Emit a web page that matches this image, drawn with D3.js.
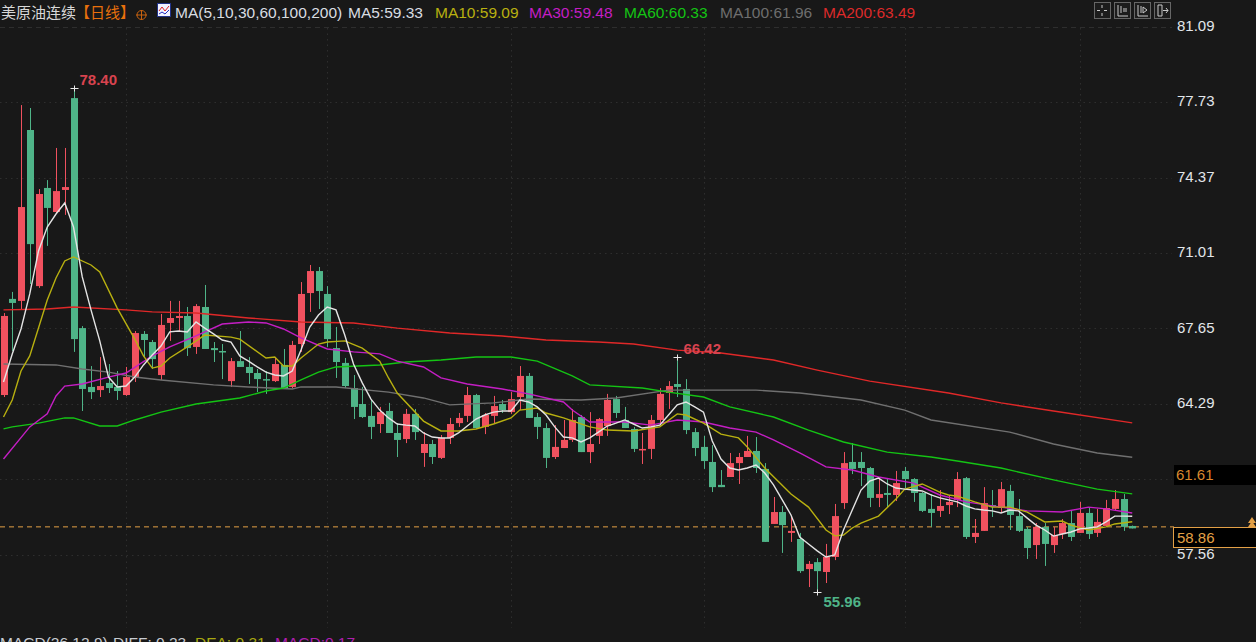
<!DOCTYPE html>
<html>
<head>
<meta charset="utf-8">
<script src="https://cdn.jsdelivr.net/npm/d3@7"></script>
<style>
html, body { margin: 0; padding: 0; background: #181818; overflow: hidden; }
svg { display: block; font-family: "Liberation Sans", "Noto Sans CJK SC", sans-serif; }
</style>
</head>
<body>
<svg id="chart" width="1256" height="642"></svg>
<script>
// daily candles
const open = [64.73,69.01,68.92,76.53,69.58,73.95,72.88,73.86,77.95,67.71,65.09,64.95,65.27,65.09,64.73,65.49,67.45,67.09,65.62,67.94,
  68.16,68.25,66.87,68.65,66.82,66.69,65.35,66.24,65.98,65.71,65.44,65.35,66.07,65.09,67.00,69.27,70.25,69.23,66.82,66.16,
  65.04,64.33,63.80,63.44,64.02,63.04,62.77,63.89,62.15,62.55,61.93,62.82,63.48,63.80,64.73,63.31,63.80,64.33,63.97,64.64,
  65.58,63.75,63.26,61.97,62.37,62.73,63.75,62.19,62.91,63.35,64.55,63.62,63.22,62.28,62.33,63.62,64.82,65.22,65.00,63.08,
  62.42,61.75,60.73,61.08,61.70,61.97,62.24,61.44,58.99,59.52,58.59,58.32,56.98,57.29,56.85,57.52,59.92,61.75,61.75,61.48,
  60.15,60.37,60.28,61.35,60.99,60.37,59.66,59.57,59.83,60.06,61.03,58.41,58.68,59.83,59.70,60.46,59.34,58.77,58.05,58.86,
  58.05,58.54,59.03,58.59,59.48,58.59,58.90,59.66,60.10,58.90];
const close = [68.25,68.83,73.10,71.45,73.68,73.06,73.81,73.99,67.22,65.00,64.86,65.13,65.04,64.91,65.53,67.49,67.18,66.33,67.85,68.16,
  68.25,66.82,68.69,66.78,66.73,66.65,66.24,65.98,65.71,65.44,65.40,66.11,65.04,66.96,69.23,70.25,69.36,67.22,66.20,65.13,
  64.20,63.75,63.31,63.97,63.04,62.73,63.89,63.08,62.55,61.97,62.82,63.44,63.71,64.73,63.26,63.84,64.24,64.06,64.55,65.58,
  63.71,63.31,61.93,62.42,62.73,63.62,62.19,62.55,63.66,64.51,63.93,63.26,62.33,62.33,63.62,64.78,65.13,65.09,63.17,62.37,
  61.79,60.63,60.63,61.70,61.97,62.24,61.48,58.19,59.52,58.94,58.68,56.89,57.21,56.89,57.52,59.34,61.70,61.44,61.48,60.15,
  60.32,60.28,60.81,60.99,60.37,59.57,59.48,59.79,59.97,60.99,58.41,58.59,59.92,59.74,60.54,59.39,58.68,57.92,58.86,58.10,
  58.50,59.03,58.41,59.48,58.54,59.08,59.70,60.10,58.86,58.79];
const high = [68.38,69.32,77.64,77.51,73.90,74.30,75.73,75.73,78.40,67.80,66.02,66.42,66.11,65.80,65.98,67.58,67.58,67.18,68.34,68.92,
  68.92,68.65,68.78,69.63,67.09,67.00,66.38,67.58,66.42,65.89,65.80,66.42,66.78,67.14,69.76,70.52,70.43,69.58,67.76,66.38,
  65.62,65.09,64.51,64.20,64.38,63.48,64.11,64.11,63.08,62.73,62.95,63.71,63.93,65.09,64.78,63.93,64.69,64.51,64.86,66.02,
  65.71,63.93,63.48,63.39,63.62,64.11,63.84,63.97,63.71,64.78,64.69,64.20,63.31,63.04,63.84,65.04,65.35,66.42,65.44,63.26,
  62.91,62.50,61.39,62.15,62.15,62.91,62.86,61.70,60.19,59.79,59.30,58.59,57.34,57.47,58.10,59.88,62.19,62.59,62.19,61.53,
  61.08,61.03,61.35,61.53,61.03,60.41,60.32,60.50,60.28,61.30,61.08,59.21,60.63,60.50,60.86,60.73,60.10,58.86,59.03,59.03,
  58.86,59.21,59.57,59.97,59.70,59.66,60.06,60.50,60.32,58.92];
const low = [64.64,66.69,68.56,69.67,69.50,71.37,72.79,72.75,66.65,64.02,64.55,64.64,64.82,64.51,64.69,65.31,66.42,65.89,65.40,67.14,
  67.58,66.47,66.56,66.78,66.20,65.44,65.09,65.98,65.22,64.86,64.78,65.31,65.00,65.04,66.65,68.43,68.56,66.87,65.49,65.04,
  63.66,63.71,62.77,63.04,63.04,61.97,62.59,62.73,61.53,61.66,61.88,62.55,63.31,63.53,63.26,62.99,63.44,63.93,63.89,64.06,
  63.71,62.77,61.48,61.88,62.37,62.64,62.19,61.70,62.55,62.91,63.71,63.26,62.19,61.66,61.88,63.48,64.11,64.64,62.99,62.01,
  61.44,60.41,60.63,61.08,60.77,61.97,61.26,58.19,58.99,57.70,58.19,56.81,56.18,55.96,56.36,57.38,59.66,61.21,60.68,59.74,
  59.74,59.70,60.01,60.59,59.97,59.52,58.86,59.30,59.43,59.74,58.32,58.14,58.68,59.30,59.48,58.72,58.63,57.43,57.43,57.12,
  57.70,58.32,58.23,58.59,58.32,58.41,58.86,59.57,58.68,58.79];

// moving averages. ma5 has one value per candle, the others are [candle, value]
const ma5 = [65.31,66.56,67.67,69.23,71.14,72.21,72.79,73.28,72.21,69.99,68.52,67.14,65.53,65.09,65.13,65.53,66.07,66.51,66.91,67.54,
  67.58,67.54,67.98,67.71,67.45,67.18,67.09,66.47,66.24,65.98,65.75,65.62,65.58,65.80,66.73,67.76,68.29,68.65,68.52,67.40,
  66.11,65.27,64.55,64.06,63.71,63.44,63.39,63.35,63.04,62.86,62.82,62.82,63.04,63.35,63.66,63.84,63.97,64.02,64.02,64.51,
  64.42,64.20,63.84,63.31,62.86,62.82,62.64,62.82,63.08,63.35,63.48,63.62,63.44,63.26,63.31,63.39,63.84,64.29,64.42,64.20,
  63.97,62.68,61.88,61.48,61.39,61.48,61.61,61.26,60.73,60.06,59.39,58.41,58.10,57.79,57.52,57.61,58.72,59.61,60.50,60.90,
  61.03,60.77,60.59,60.54,60.50,60.46,60.28,60.15,60.06,59.97,59.79,59.66,59.61,59.57,59.48,59.61,59.57,59.25,58.94,58.72,
  58.45,58.54,58.63,58.77,58.81,58.86,59.08,59.34,59.34,59.33];
const ma10 = [[0,63.75],[1,64.51],[2,65.80],[3,66.47],[5,68.96],[6,69.94],[7,70.70],[8,70.88],[10,70.52],[11,70.21],[13,68.60],[15,67.22],
  [16,66.47],[17,65.93],[18,66.02],[19,66.38],[21,66.87],[23,67.40],[26,67.31],[27,67.22],[30,66.38],[31,66.42],[32,66.02],[33,66.02],
  [34,66.38],[36,67.00],[37,67.09],[39,67.14],[41,66.82],[43,66.24],[44,65.49],[45,64.82],[48,63.57],[50,63.13],[52,63.13],[54,63.22],
  [56,63.44],[58,63.71],[59,64.06],[61,64.15],[62,63.93],[64,63.71],[67,63.31],[69,63.17],[72,63.13],[75,63.31],[77,63.89],[78,63.84],
  [80,63.48],[82,62.99],[84,62.82],[85,62.42],[87,61.48],[90,60.32],[92,59.74],[94,58.72],[95,58.46],[96,58.50],[97,58.81],[98,59.03],
  [100,59.34],[102,60.10],[103,60.54],[105,60.77],[107,60.41],[108,60.28],[109,60.23],[111,59.97],[113,59.74],[115,59.74],[117,59.52],
  [119,59.08],[121,59.12],[122,58.94],[124,58.72],[126,58.86],[127,58.99],[129,59.09]];
const ma30 = [[0,61.88],[3,63.31],[5,63.89],[6,64.69],[7,65.13],[9,65.22],[12,65.53],[14,65.71],[17,66.47],[19,66.87],[22,67.36],[25,67.89],
  [28,67.98],[30,67.94],[32,67.67],[34,67.27],[37,66.78],[40,66.65],[43,66.56],[45,66.24],[48,65.98],[50,65.49],[53,65.22],[57,65.00],
  [60,64.78],[64,64.42],[65,64.06],[67,63.53],[71,63.53],[74,63.39],[77,63.62],[80,63.53],[83,63.26],[86,63.08],[88,62.73],[91,62.15],
  [94,61.53],[97,61.39],[100,61.08],[104,60.81],[107,60.28],[110,59.97],[114,59.74],[117,59.57],[121,59.52],[124,59.74],[126,59.66],[129,59.48]];
const ma60 = [[0,63.22],[1,63.31],[4,63.48],[7,63.71],[8,63.71],[11,63.35],[13,63.35],[15,63.62],[18,63.97],[22,64.33],[27,64.60],[30,64.91],
  [32,65.04],[34,65.40],[36,65.75],[38,65.98],[43,66.07],[46,66.20],[50,66.29],[54,66.42],[58,66.42],[61,66.24],[65,65.58],[67,65.18],
  [73,65.04],[76,64.86],[80,64.64],[83,64.20],[88,63.75],[92,63.17],[96,62.64],[97,62.55],[101,62.19],[106,61.97],[109,61.79],[114,61.48],
  [120,60.95],[125,60.54],[129,60.33]];
const ma100 = [[0,66.11],[6,66.07],[9,65.89],[12,65.75],[15,65.53],[18,65.40],[24,65.18],[28,65.09],[33,65.00],[34,65.09],[38,65.09],[44,64.86],
  [48,64.60],[51,64.29],[56,64.38],[60,64.55],[66,64.51],[70,64.60],[76,64.95],[86,64.95],[91,64.82],[98,64.51],[103,64.06],[106,63.62],
  [115,63.08],[120,62.55],[125,62.15],[129,61.96]];
const ma200 = [[0,68.52],[5,68.56],[8,68.65],[14,68.52],[17,68.43],[22,68.38],[28,68.16],[34,67.98],[40,67.94],[45,67.71],[51,67.49],[57,67.36],
  [62,67.18],[68,67.09],[72,67.00],[77,66.73],[82,66.60],[88,66.29],[93,65.84],[99,65.35],[108,64.82],[114,64.38],[120,64.02],[129,63.49]];

const tickLabels = [81.09, 77.73, 74.37, 71.01, 67.65, 64.29, 57.56];
const gridValues = [81.09, 77.73, 74.37, 71.01, 67.65, 64.29, 60.93, 57.56];
const gridCandles = [14, 37, 58, 80, 103, 123];
const lastPrice = 58.86;
const boxPrice = 61.61;

const RED = "#f0515f", GREEN = "#4fb488";

const svg = d3.select("#chart");
const x = d3.scaleLinear().domain([0, open.length - 1]).range([3.5, 1132.25]);
const y = d3.scaleLinear().domain([78.40, 55.96]).range([88, 592]);

// grid
svg.append("g").selectAll("line").data(gridValues).enter().append("line")
    .attr("x1", 0).attr("x2", 1172)
    .attr("y1", d => Math.round(y(d)) - 0.5).attr("y2", d => Math.round(y(d)) - 0.5)
    .attr("stroke", "#2e2e2e")
    .attr("stroke-dasharray", (d, i) => i == 0 ? "5,4" : "1.5,4");
svg.append("g").selectAll("line").data(gridCandles).enter().append("line")
    .attr("x1", d => Math.round(x(d)) + 0.5).attr("x2", d => Math.round(x(d)) + 0.5)
    .attr("y1", 28).attr("y2", 628)
    .attr("stroke", "#2e2e2e").attr("stroke-dasharray", "1.5,4");

// last price line sits under the candles
svg.append("line")
    .attr("x1", 0).attr("x2", 1174)
    .attr("y1", y(lastPrice)).attr("y2", y(lastPrice))
    .attr("stroke", "#e3a046").attr("stroke-dasharray", "5,4");

// candles
const idx = d3.range(open.length);
const color = i => close[i] >= open[i] ? RED : GREEN;
const candles = svg.append("g");
candles.selectAll("line").data(idx).enter().append("line")
    .attr("x1", i => Math.round(x(i)) + 0.5).attr("x2", i => Math.round(x(i)) + 0.5)
    .attr("y1", i => y(high[i])).attr("y2", i => y(low[i]))
    .attr("stroke", color);
candles.selectAll("rect").data(idx).enter().append("rect")
    .attr("x", i => Math.round(x(i)) - 3)
    .attr("width", 7)
    .attr("y", i => y(Math.max(open[i], close[i])))
    .attr("height", i => Math.max(1.5, Math.abs(y(open[i]) - y(close[i]))))
    .attr("fill", color);

// moving averages
const line = d3.line().x(d => x(d[0])).y(d => y(d[1]));
const maSeries = [
    { data: ma200, color: "#e02828" },
    { data: ma100, color: "#707070" },
    { data: ma60, color: "#14c414" },
    { data: ma30, color: "#c41ec4" },
    { data: ma10, color: "#b8b010" },
    { data: ma5.map((v, i) => [i, v]), color: "#e4e4e4" }
];
svg.append("g").selectAll("path").data(maSeries).enter().append("path")
    .attr("d", d => line(d.data))
    .attr("fill", "none")
    .attr("stroke", d => d.color)
    .attr("stroke-width", 1.4);

// high and low markers
const marks = [
    { i: 8, v: 78.40, dx: 5, dy: -9, color: "#d8434f" },
    { i: 77, v: 66.42, dx: 6, dy: -9, color: "#d8434f" },
    { i: 93, v: 55.96, dx: 6, dy: 9, color: "#4fb488" }
];
const mark = svg.append("g").selectAll("g").data(marks).enter().append("g")
    .attr("transform", d => `translate(${Math.round(x(d.i)) + 0.5},${Math.round(y(d.v)) + 0.5})`);
mark.append("path").attr("d", "M-4,0H4M0,-3V3").attr("stroke", "#e8e8e8");
mark.append("text")
    .attr("x", d => d.dx).attr("y", d => d.dy).attr("dy", "0.35em")
    .attr("fill", d => d.color)
    .attr("font-size", 15).attr("font-weight", "bold")
    .text(d => d.v.toFixed(2));

// right axis
const axis = svg.append("g")
    .attr("transform", "translate(1177,-2)")
    .call(d3.axisRight(y).tickValues(tickLabels).tickSize(0).tickPadding(0).tickFormat(d3.format(".2f")));
axis.select(".domain").remove();
axis.selectAll("text").attr("fill", "#e2e6ea").attr("font-size", 15)
    .attr("font-family", "\"Liberation Sans\", sans-serif");

// price boxes on the axis
svg.append("rect").attr("x", 1174).attr("y", 465).attr("width", 82).attr("height", 20).attr("fill", "#000");
svg.append("text").attr("x", 1176).attr("y", 475).attr("dy", "0.35em")
    .attr("fill", "#d9892f").attr("font-size", 15).text(boxPrice.toFixed(2));
svg.append("rect").attr("x", 1173.5).attr("y", 527.5).attr("width", 90).attr("height", 20)
    .attr("fill", "#000").attr("stroke", "#e3a046");
svg.append("text").attr("x", 1177).attr("y", 538).attr("dy", "0.35em")
    .attr("fill", "#e3a046").attr("font-size", 15).text(lastPrice.toFixed(2));
svg.append("path").attr("d", "M1248,523L1252,517L1256,523ZM1248,527L1252,521L1256,527Z").attr("fill", "#e3a046");

// header
const header = [
    { x: 1, text: "美原油连续", color: "#d8d8d8", size: 15 },
    { x: 75, text: "【日线】", color: "#e8700c", size: 15 },
    { x: 175, text: "MA(5,10,30,60,100,200)", color: "#d8dde2", size: 15.5 },
    { x: 348, text: "MA5:59.33", color: "#d8dde2", size: 15.5 },
    { x: 435, text: "MA10:59.09", color: "#b8b010", size: 15.5 },
    { x: 529, text: "MA30:59.48", color: "#c41ec4", size: 15.5 },
    { x: 624, text: "MA60:60.33", color: "#14c414", size: 15.5 },
    { x: 720, text: "MA100:61.96", color: "#6e6e6e", size: 15.5 },
    { x: 823, text: "MA200:63.49", color: "#dc2a2a", size: 15.5 }
];
svg.append("g").selectAll("text").data(header).enter().append("text")
    .attr("x", d => d.x).attr("y", 12.5).attr("dy", "0.35em")
    .attr("fill", d => d.color).attr("font-size", d => d.size).text(d => d.text);

// small circle with cross next to the title
svg.append("circle").attr("cx", 141.5).attr("cy", 15).attr("r", 4.5).attr("fill", "none").attr("stroke", "#c8620f");
svg.append("path").attr("d", "M136,15H147M141.5,10V20").attr("stroke", "#c8620f");

// indicator icon
svg.append("rect").attr("x", 157.5).attr("y", 3.5).attr("width", 13).attr("height", 13).attr("fill", "#f2f2ff").attr("stroke", "#223388");
svg.append("path").attr("d", "M159,11L162,7L165,11L169,6").attr("fill", "none").attr("stroke", "#e02020");
svg.append("path").attr("d", "M159,14L162,12L165,14L169,10").attr("fill", "none").attr("stroke", "#2030c0");

// toolbar top right
const toolbar = [1094, 1114, 1134, 1154];
const toolGlyphs = [
    "M8,3V6M8,11V14M3,8.5H6M10,8.5H13",
    "M4,3V14H14M7,4V11M10,6V10M12,6V10",
    "M4,3V14H14M7,4V11M9,5L13,8L9,11Z",
    "M4,3V14M4,3H8V14H4M9,8.5H14M12,6L14,8.5L12,11"
];
const tools = svg.append("g").selectAll("g").data(toolbar).enter().append("g")
    .attr("transform", d => `translate(${d},2)`);
tools.append("rect").attr("x", 0.5).attr("y", 0.5).attr("width", 16).attr("height", 16)
    .attr("fill", "#1c1c1c").attr("stroke", "#666");
tools.append("path").attr("d", (d, i) => toolGlyphs[i]).attr("fill", "none").attr("stroke", "#c8c8c8");

// MACD title, cut by the window edge
const macd = [
    { x: 0, text: "MACD(26,12,9)", color: "#c8ccd2" },
    { x: 113, text: "DIFF: 0.23", color: "#c8ccd2" },
    { x: 195, text: "DEA: 0.31", color: "#a8a810" },
    { x: 275, text: "MACD:0.17", color: "#b01eb0" }
];
svg.append("g").selectAll("text").data(macd).enter().append("text")
    .attr("x", d => d.x).attr("y", 648)
    .attr("fill", d => d.color).attr("font-size", 15.5).text(d => d.text);
</script>
</body>
</html>
